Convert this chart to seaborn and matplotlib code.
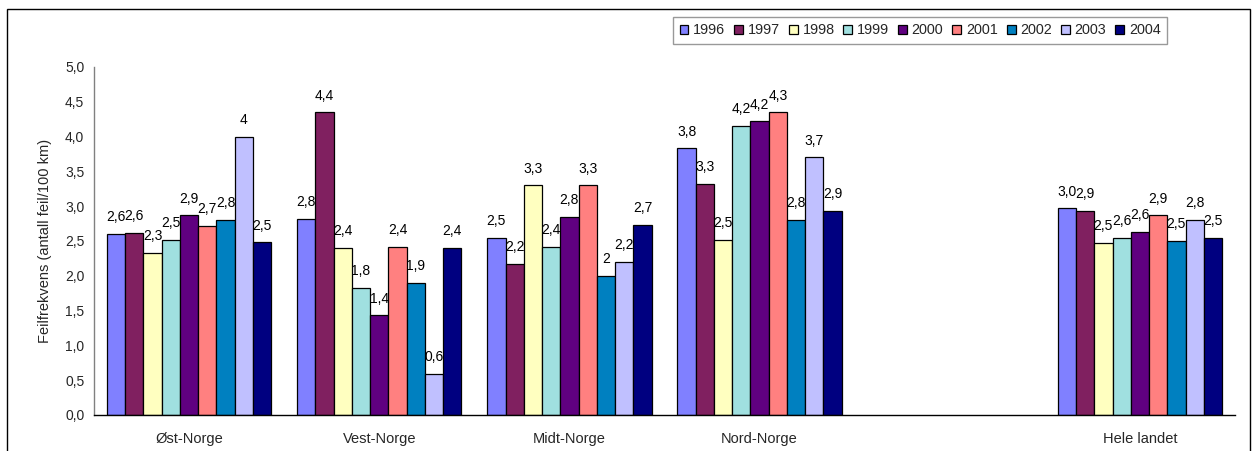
import numpy as np
import pandas as pd
import matplotlib
matplotlib.use("Agg")
import matplotlib.pyplot as plt
import seaborn as sns
from matplotlib.patches import Rectangle
from matplotlib.ticker import FuncFormatter

regions = ["Øst-Norge", "Vest-Norge", "Midt-Norge", "Nord-Norge", " ", "Hele landet"]
years = ["1996", "1997", "1998", "1999", "2000", "2001", "2002", "2003", "2004"]

ost = [2.60, 2.62, 2.33, 2.52, 2.87, 2.72, 2.80, 4.00, 2.48]
vest = [2.82, 4.35, 2.40, 1.83, 1.43, 2.42, 1.90, 0.59, 2.40]
midt = [2.55, 2.17, 3.30, 2.42, 2.85, 3.30, 2.00, 2.20, 2.73]
nord = [3.83, 3.32, 2.52, 4.15, 4.22, 4.35, 2.80, 3.70, 2.93]
hele = [2.97, 2.93, 2.47, 2.55, 2.63, 2.87, 2.50, 2.80, 2.55]

ost_lbl = ["2,6", "2,6", "2,3", "2,5", "2,9", "2,7", "2,8", "4", "2,5"]
vest_lbl = ["2,8", "4,4", "2,4", "1,8", "1,4", "2,4", "1,9", "0,6", "2,4"]
midt_lbl = ["2,5", "2,2", "3,3", "2,4", "2,8", "3,3", "2", "2,2", "2,7"]
nord_lbl = ["3,8", "3,3", "2,5", "4,2", "4,2", "4,3", "2,8", "3,7", "2,9"]
hele_lbl = ["3,0", "2,9", "2,5", "2,6", "2,6", "2,9", "2,5", "2,8", "2,5"]

colors = ["#8080FF", "#802060", "#FFFFC0", "#A0E0E0", "#600080",
          "#FF8080", "#0080C0", "#C0C0FF", "#000080"]

series = {"Øst-Norge": (ost, ost_lbl), "Vest-Norge": (vest, vest_lbl),
          "Midt-Norge": (midt, midt_lbl), "Nord-Norge": (nord, nord_lbl),
          "Hele landet": (hele, hele_lbl)}

rows = []
for reg, (vals, lbls) in series.items():
    for y, v, l in zip(years, vals, lbls):
        rows.append({"region": reg, "year": y, "value": v, "label": l})
df = pd.DataFrame(rows)

sns.set_theme(style="white")
plt.rcParams["font.family"] = ["Liberation Sans", "DejaVu Sans"]

fig = plt.figure(figsize=(12.58, 4.51), dpi=100)
ax = fig.add_axes([94 / 1258, 1 - 415 / 451, (1235 - 94) / 1258, (415 - 67) / 451])

sns.barplot(data=df, x="region", y="value", hue="year", order=regions,
            hue_order=years, palette=colors, width=0.864, gap=0,
            edgecolor="black", linewidth=0.9, errorbar=None, ax=ax,
            legend=True, saturation=1)

# data labels
for cont, yr in zip(ax.containers, years):
    sub = df[df.year == yr].set_index("region")
    labs = [sub.loc[reg, "label"] for reg in regions if reg in sub.index]
    bars = [b for b in cont if not np.isnan(b.get_height()) and b.get_height() > 0]
    for b, t in zip(bars, labs):
        ax.annotate(t, (b.get_x() + b.get_width() / 2, b.get_height()),
                    xytext=(0, 7), textcoords="offset points",
                    ha="center", va="bottom", fontsize=10, color="black")

ax.set_ylim(0, 5)
ax.set_xlim(-0.5, len(regions) - 0.5)
ax.set_yticks(np.arange(0, 5.01, 0.5))
ax.yaxis.set_major_formatter(FuncFormatter(lambda v, p: f"{v:.1f}".replace(".", ",")))
ax.set_xticks(range(len(regions)))
ax.set_xticklabels(regions)
ax.set_xticks(np.arange(-0.5, len(regions), 1), minor=True)
ax.tick_params(axis="x", which="major", length=0, pad=12, labelsize=10.5)
ax.tick_params(axis="x", which="minor", length=5, width=1, color="black", direction="out")
ax.tick_params(axis="y", which="major", length=4, width=1, color="#808080",
               direction="out", labelsize=10, pad=3)
ax.set_xlabel("")
ax.set_ylabel("Feilfrekvens (antall feil/100 km)", fontsize=10.5, labelpad=9)
for s in ["top", "right"]:
    ax.spines[s].set_visible(False)
ax.spines["left"].set_color("#808080")
ax.spines["bottom"].set_color("black")
ax.spines["left"].set_linewidth(1)
ax.spines["bottom"].set_linewidth(1)
ax.grid(False)

handles, labels = ax.get_legend_handles_labels()
ax.legend_.remove()
leg = fig.legend(handles, labels, loc="upper left",
                 bbox_to_anchor=(673 / 1258, 1 - 17 / 451), ncol=9,
                 frameon=True, fancybox=False, edgecolor="#808080",
                 fontsize=10.4, handlelength=0.62, handleheight=0.62,
                 handletextpad=0.32, columnspacing=0.62, borderpad=0.45,
                 borderaxespad=0)
leg.get_frame().set_linewidth(1)
for h in leg.legend_handles:
    h.set_edgecolor("black")
    h.set_linewidth(0.9)

fig.patches.append(Rectangle((7 / 1258, -0.1), (1250 - 7) / 1258, 1.1 - 9 / 451,
                             transform=fig.transFigure, fill=False,
                             edgecolor="black", linewidth=1))

fig.savefig("out.png", dpi=100)
